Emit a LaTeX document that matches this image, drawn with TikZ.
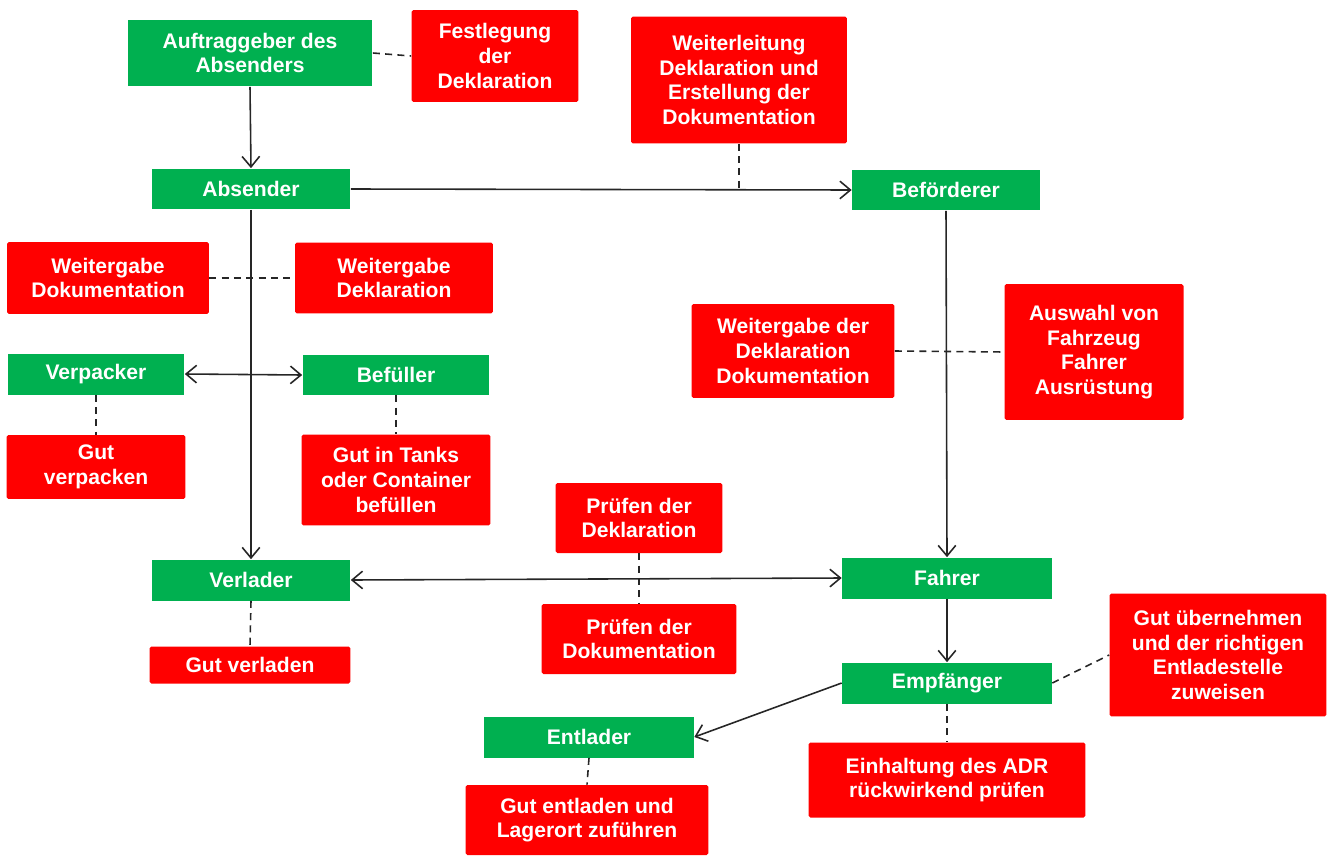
\documentclass[tikz,border=0pt]{standalone}
\usepackage{fontspec}
\setmainfont{Liberation Sans}
\usetikzlibrary{arrows.meta}
\definecolor{boxgreen}{RGB}{0,176,80}
\definecolor{boxred}{RGB}{255,0,0}
\begin{document}
\begin{tikzpicture}[x=0.02cm,y=-0.02cm,
  base/.style={text=white,font=\fontsize{12}{14}\selectfont\bfseries,align=center,inner sep=0pt},
  gbox/.style={base,fill=boxgreen},
  rbox/.style={base,fill=boxred,rounded corners=1pt},
  conn/.style={line width=0.9pt,draw=black!85},
  arr/.style={conn,-{Straight Barb[length=6pt,width=10pt]}},
  arrtwo/.style={conn,{Straight Barb[length=6pt,width=10pt]}-{Straight Barb[length=6pt,width=10pt]}},
  dsh/.style={conn,dash pattern=on 4pt off 3pt}]
\useasboundingbox (0,0) rectangle (1331,855);
% green boxes
\node[gbox,minimum width=4.9cm,minimum height=1.34cm] (A) at (250,53) {Auftraggeber des\\Absenders};
\node[gbox,minimum width=3.98cm,minimum height=0.82cm] (B) at (251,189) {Absender};
\node[gbox,minimum width=3.76cm,minimum height=0.82cm] (C) at (946,190) {Beförderer};
\node[gbox,minimum width=3.54cm,minimum height=0.82cm] (D) at (96,374) {Verpacker};
\node[gbox,minimum width=3.74cm,minimum height=0.8cm] (E) at (396,375) {Befüller};
\node[gbox,minimum width=3.98cm,minimum height=0.82cm] (F) at (251,580) {Verlader};
\node[gbox,minimum width=4.2cm,minimum height=0.82cm] (G) at (947,578) {Fahrer};
\node[gbox,minimum width=4.2cm,minimum height=0.82cm] (H) at (947,683) {Empfänger};
\node[gbox,minimum width=4.2cm,minimum height=0.82cm] (I) at (589,737) {Entlader};
% red boxes
\node[rbox,minimum width=3.34cm,minimum height=1.84cm] (r1) at (495,56) {Festlegung\\der\\Deklaration};
\node[rbox,minimum width=4.32cm,minimum height=2.54cm] (r2) at (739,80) {Weiterleitung\\Deklaration und\\Erstellung der\\Dokumentation};
\node[rbox,minimum width=4.04cm,minimum height=1.44cm] (r3) at (108,278) {Weitergabe\\Dokumentation};
\node[rbox,minimum width=3.96cm,minimum height=1.42cm] (r4) at (394,278) {Weitergabe\\Deklaration};
\node[rbox,minimum width=3.58cm,minimum height=1.28cm] (r5) at (96,467) {Gut\\verpacken};
\node[rbox,minimum width=3.78cm,minimum height=1.82cm] (r6) at (396,480) {Gut in Tanks\\oder Container\\befüllen};
\node[rbox,minimum width=4.06cm,minimum height=1.88cm] (r7) at (793,351) {Weitergabe der\\Deklaration\\Dokumentation};
\node[rbox,minimum width=3.58cm,minimum height=2.72cm] (r8) at (1094,352) {Auswahl von\\Fahrzeug\\Fahrer\\Ausrüstung};
\node[rbox,minimum width=3.34cm,minimum height=1.4cm] (r9) at (639,518) {Prüfen der\\Deklaration};
\node[rbox,minimum width=3.9cm,minimum height=1.4cm] (r10) at (639,639) {Prüfen der\\Dokumentation};
\node[rbox,minimum width=4.02cm,minimum height=0.74cm] (r11) at (250,665) {Gut verladen};
\node[rbox,minimum width=4.34cm,minimum height=2.46cm] (r12) at (1218,655) {Gut übernehmen\\und der richtigen\\Entladestelle\\zuweisen};
\node[rbox,minimum width=5.54cm,minimum height=1.5cm] (r13) at (947,780) {Einhaltung des ADR\\rückwirkend prüfen};
\node[rbox,minimum width=4.86cm,minimum height=1.4cm] (r14) at (587,820) {Gut entladen und\\Lagerort zuführen};
% connectors
\draw[arr] (A.south) -- (B.north);
\draw[dsh] (A.east) -- (r1.west);
\draw[arr] (B.east) -- (C.west);
\draw[dsh] (r2.south) -- (r2.south |- C.west);
\draw[arr] (B.south) -- (F.north);
\draw[dsh] (r3.east) -- (r4.west);
\draw[arrtwo] (D.east) -- (E.west);
\draw[dsh] (D.south) -- (r5.north);
\draw[dsh] (E.south) -- (r6.north);
\draw[arr] (C.south) -- (G.north);
\draw[dsh] (r7.east) -- (r8.west);
\draw[arrtwo] (F.east) -- (G.west);
\draw[dsh] (r9.south) -- (r10.north);
\draw[dsh] (F.south) -- (r11.north);
\draw[arr] (G.south) -- (H.north);
\draw[arr] (H.west) -- (I.east);
\draw[dsh] (H.east) -- (r12.west);
\draw[dsh] (H.south) -- (r13.north);
\draw[dsh] (I.south) -- (r14.north);
\end{tikzpicture}
\end{document}
